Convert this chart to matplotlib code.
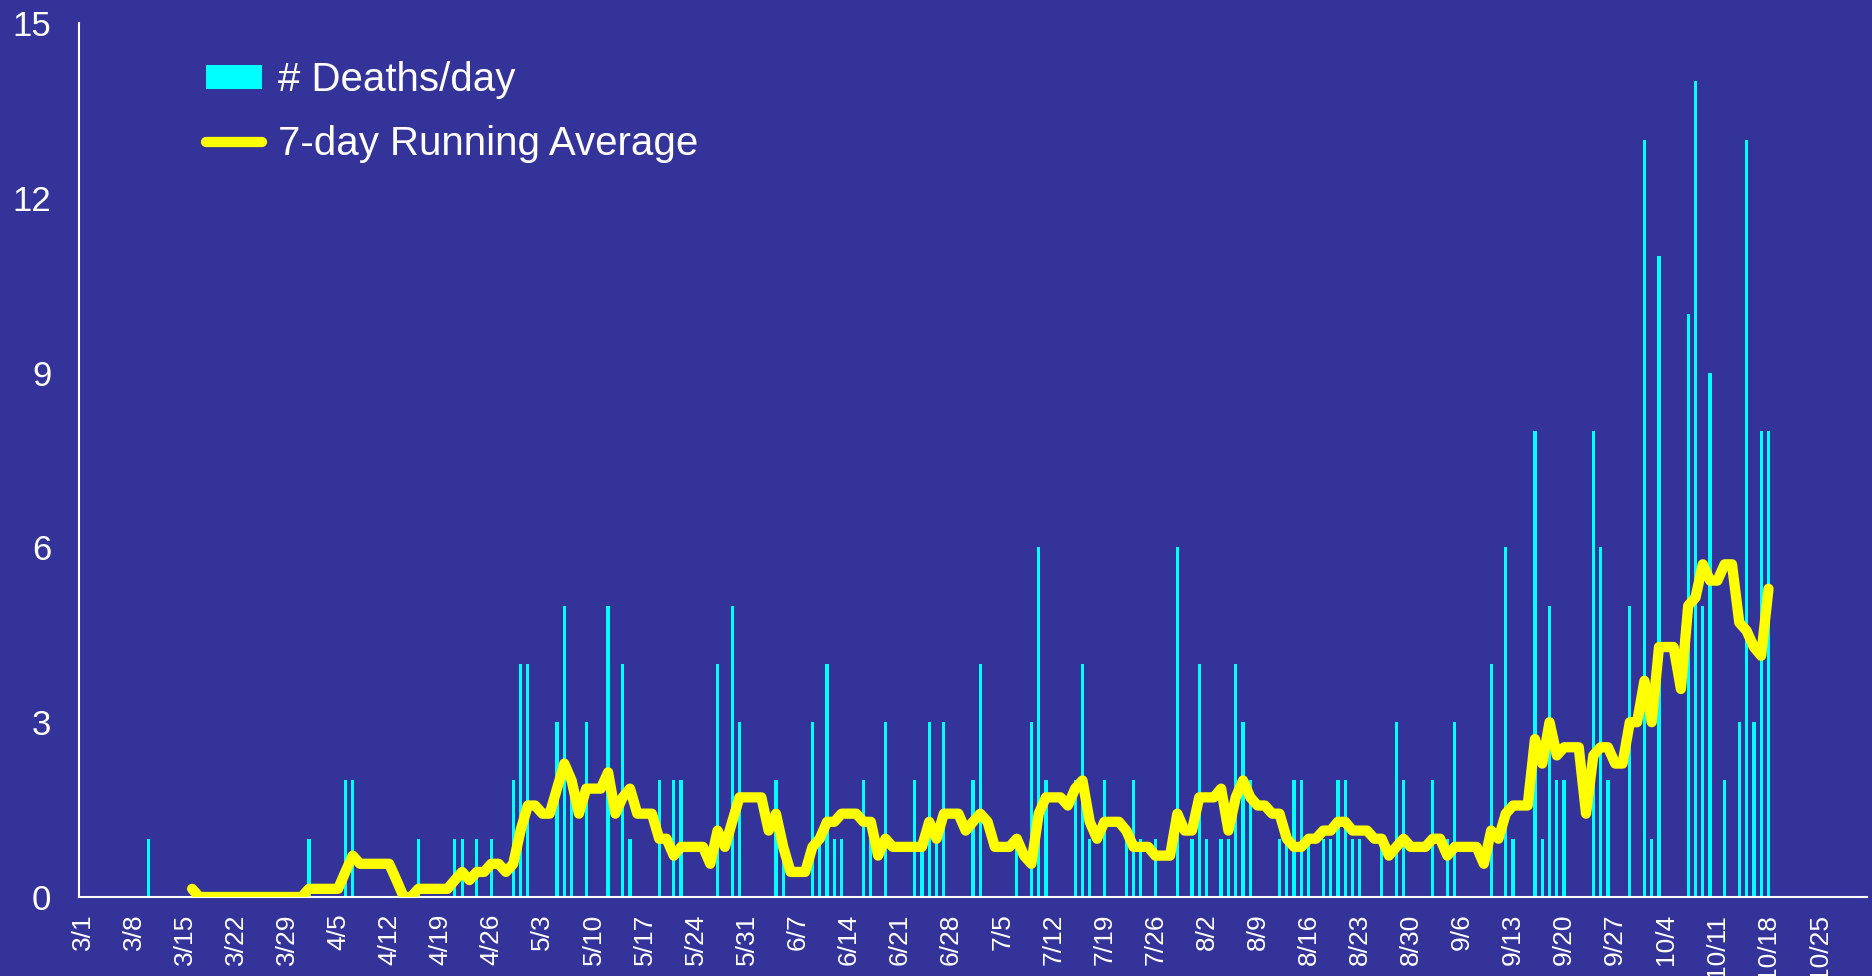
import matplotlib
matplotlib.use("Agg")
import matplotlib.pyplot as plt
from matplotlib.patches import Patch
from matplotlib.lines import Line2D
import pandas as pd

plt.rcParams['font.family'] = ['Liberation Sans', 'DejaVu Sans']

YEAR = 2020

# days with at least one death (all other days are 0)
death_days = ["3/10", "4/1", "4/6", "4/7", "4/16", "4/21", "4/22", "4/24", "4/26", "4/29",
              "4/30", "5/1", "5/5", "5/6", "5/7", "5/9", "5/12", "5/14", "5/15", "5/19",
              "5/21", "5/22", "5/27", "5/29", "5/30", "6/4", "6/5", "6/9", "6/10", "6/11",
              "6/12", "6/13", "6/16", "6/17", "6/19", "6/23", "6/24", "6/25", "6/26", "6/27",
              "7/1", "7/2", "7/7", "7/9", "7/10", "7/11", "7/15", "7/16", "7/17", "7/19",
              "7/22", "7/23", "7/24", "7/26", "7/29", "7/31", "8/1", "8/2", "8/4", "8/5",
              "8/6", "8/7", "8/8", "8/12", "8/13", "8/14", "8/15", "8/16", "8/18", "8/19",
              "8/20", "8/21", "8/22", "8/23", "8/26", "8/28", "8/29", "9/2", "9/4", "9/5",
              "9/10", "9/12", "9/13", "9/16", "9/17", "9/18", "9/19", "9/20", "9/24", "9/25",
              "9/26", "9/29", "10/1", "10/2", "10/3", "10/7", "10/8", "10/9", "10/10", "10/12",
              "10/14", "10/15", "10/16", "10/17", "10/18"]
deaths = [1, 1, 2, 2, 1, 1, 1, 1, 1, 2,
          4, 4, 3, 5, 2, 3, 5, 4, 1, 2,
          2, 2, 4, 5, 3, 2, 1, 3, 1, 4,
          1, 1, 2, 1, 3, 2, 1, 3, 1, 3,
          2, 4, 1, 3, 6, 2, 2, 4, 1, 2,
          1, 2, 1, 1, 6, 1, 4, 1, 1, 1,
          4, 3, 2, 1, 1, 2, 2, 1, 1, 1,
          2, 2, 1, 1, 1, 3, 2, 2, 1, 3,
          4, 6, 1, 8, 1, 5, 2, 2, 8, 6,
          2, 5, 13, 1, 11, 10, 14, 5, 9, 2,
          3, 13, 3, 8, 8]

# 7-day running average, one value per day starting 3/16
avg_start = "3/16"
avg_7day = [
    # March 16-31
    0.14, 0, 0, 0, 0, 0, 0, 0, 0, 0, 0, 0, 0, 0, 0, 0,
    # April
    0.14, 0.14, 0.14, 0.14, 0.14, 0.43, 0.71, 0.57, 0.57, 0.57,
    0.57, 0.57, 0.29, 0, 0, 0.14, 0.14, 0.14, 0.14, 0.14,
    0.29, 0.43, 0.29, 0.43, 0.43, 0.57, 0.57, 0.43, 0.57, 1.14,
    # May
    1.57, 1.57, 1.43, 1.43, 1.86, 2.29, 2.0, 1.43, 1.86, 1.86,
    1.86, 2.14, 1.43, 1.71, 1.86, 1.43, 1.43, 1.43, 1.0, 1.0,
    0.71, 0.86, 0.86, 0.86, 0.86, 0.57, 1.14, 0.86, 1.29, 1.71, 1.71,
    # June
    1.71, 1.71, 1.14, 1.43, 0.86, 0.43, 0.43, 0.43, 0.86, 1.0,
    1.29, 1.29, 1.43, 1.43, 1.43, 1.29, 1.29, 0.71, 1.0, 0.86,
    0.86, 0.86, 0.86, 0.86, 1.29, 1.0, 1.43, 1.43, 1.43, 1.14,
    # July
    1.29, 1.43, 1.29, 0.86, 0.86, 0.86, 1.0, 0.71, 0.57, 1.43,
    1.71, 1.71, 1.71, 1.57, 1.86, 2.0, 1.29, 1.0, 1.29, 1.29,
    1.29, 1.14, 0.86, 0.86, 0.86, 0.71, 0.71, 0.71, 1.43, 1.14, 1.14,
    # August
    1.71, 1.71, 1.71, 1.86, 1.14, 1.71, 2.0, 1.71, 1.57, 1.57,
    1.43, 1.43, 1.0, 0.86, 0.86, 1.0, 1.0, 1.14, 1.14, 1.29,
    1.29, 1.14, 1.14, 1.14, 1.0, 1.0, 0.71, 0.86, 1.0, 0.86, 0.86,
    # September
    0.86, 1.0, 1.0, 0.71, 0.86, 0.86, 0.86, 0.86, 0.57, 1.14,
    1.0, 1.43, 1.57, 1.57, 1.57, 2.71, 2.29, 3.0, 2.43, 2.57,
    2.57, 2.57, 1.43, 2.43, 2.57, 2.57, 2.29, 2.29, 3.0, 3.0,
    # October 1-18
    3.71, 3.0, 4.29, 4.29, 4.29, 3.57, 5.0, 5.14, 5.71, 5.43,
    5.43, 5.71, 5.71, 4.71, 4.57, 4.29, 4.14, 5.29,
]

axis_first_day, axis_last_day = "3/1", "10/31"
last_tick_day = "10/25"
y_ticks = [0, 3, 6, 9, 12, 15]

bg = "#333399"
bar_color = "#00FFFF"
line_color = "#FFFF00"


def to_date(md):
    return pd.Timestamp(f"{YEAR}/{md}")


bar_dates = [to_date(d) for d in death_days]
avg_dates = pd.date_range(to_date(avg_start), periods=len(avg_7day), freq="D")
tick_dates = pd.date_range(to_date(axis_first_day), to_date(last_tick_day), freq="7D")
half_day = pd.Timedelta(hours=12)

fig = plt.figure(figsize=(18.72, 9.76), dpi=100, facecolor=bg)
ax = fig.add_axes([79 / 1872, 1 - 897 / 976, (1867 - 79) / 1872, (897 - 23) / 976])
ax.set_facecolor(bg)

ax.bar(bar_dates, deaths, width=0.45, color=bar_color, zorder=2)
ax.plot(avg_dates, avg_7day, color=line_color, linewidth=7.4,
        solid_joinstyle="round", solid_capstyle="round", zorder=3)

ax.set_xlim(to_date(axis_first_day) - half_day, to_date(axis_last_day) + half_day)
ax.set_ylim(0, 15)

ax.set_xticks(tick_dates)
ax.set_xticklabels([f"{d.month}/{d.day}" for d in tick_dates], rotation=90,
                   fontsize=19, color="white")
ax.set_yticks(y_ticks)
ax.set_yticklabels([str(v) for v in y_ticks], fontsize=25, color="white")
ax.tick_params(axis="x", length=0, pad=12)
ax.tick_params(axis="y", length=0, pad=20)

for side in ["top", "right"]:
    ax.spines[side].set_visible(False)
for side in ["left", "bottom"]:
    ax.spines[side].set_color("white")
    ax.spines[side].set_linewidth(1.5)

handles = [
    Patch(facecolor=bar_color, edgecolor="none"),
    Line2D([0], [0], color=line_color, linewidth=7.4, solid_capstyle="round"),
]
labels = ["# Deaths/day", "7-day Running Average"]
fig.legend(handles, labels, loc="upper left", bbox_to_anchor=(186 / 1872, 1 - 41 / 976),
           frameon=False, fontsize=29, labelcolor="white", borderpad=0,
           handlelength=1.39, handleheight=0.52, handletextpad=0.4, labelspacing=0.63)

fig.savefig("out.png", dpi=100, facecolor=bg)
